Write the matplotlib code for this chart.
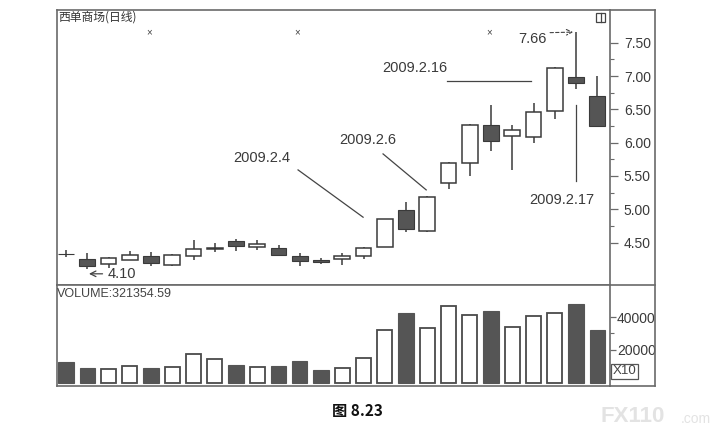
import matplotlib
matplotlib.use("Agg")
import matplotlib.pyplot as plt
from matplotlib.lines import Line2D
from matplotlib.patches import Rectangle
import numpy as np

plt.rcParams['font.family'] = ['Liberation Sans', 'Noto Sans CJK SC', 'DejaVu Sans']

# ---- data ----
opens  = [4.33, 4.25, 4.17, 4.24, 4.30, 4.16, 4.29, 4.40, 4.52, 4.43, 4.42, 4.29, 4.24,
          4.25, 4.30, 4.44, 4.99, 4.67, 5.39, 5.70, 6.27, 6.10, 6.08, 6.47, 6.99, 6.70]
highs  = [4.39, 4.34, 4.28, 4.38, 4.36, 4.32, 4.54, 4.49, 4.55, 4.54, 4.46, 4.34, 4.27,
          4.34, 4.43, 4.86, 5.11, 5.20, 5.71, 6.28, 6.56, 6.26, 6.59, 7.13, 7.66, 7.00]
lows   = [4.28, 4.10, 4.12, 4.24, 4.15, 4.14, 4.24, 4.35, 4.37, 4.39, 4.29, 4.15, 4.17,
          4.16, 4.25, 4.43, 4.66, 4.66, 5.31, 5.50, 5.88, 5.59, 6.00, 6.35, 6.80, 6.23]
closes = [4.32, 4.15, 4.27, 4.31, 4.19, 4.31, 4.41, 4.41, 4.45, 4.48, 4.31, 4.22, 4.20,
          4.30, 4.42, 4.85, 4.71, 5.19, 5.70, 6.27, 6.03, 6.19, 6.46, 7.12, 6.89, 6.25]
volumes = [12840, 9170, 8380, 9790, 8800, 9400, 17370, 14500, 10830, 9400, 10210, 13270, 7700,
           8680, 15170, 31900, 42300, 33150, 46970, 41100, 43920, 33940, 40670, 42200, 48100, 32135.459]
price_ticks = [4.50, 5.00, 5.50, 6.00, 6.50, 7.00, 7.50]
vol_ticks = [20000, 40000]

title = "西单商场(日线)"
vol_label = "VOLUME:321354.59"
caption = "图 8.23"

n = len(opens)
idx = np.arange(n)
o = np.array(opens); c = np.array(closes); h = np.array(highs); l = np.array(lows)
up = c >= o

W, H = 723, 441
fig = plt.figure(figsize=(W / 100, H / 100), dpi=100)
fig.patch.set_facecolor('white')

def fx(px):
    return px / W

def fy(py):
    return 1 - py / H

L, R, T, MID, B, RR = 57, 610, 10, 285, 386, 655
ax = fig.add_axes([fx(L), fy(MID), fx(R - L), (MID - T) / H])
axv = fig.add_axes([fx(L), fy(B), fx(R - L), (B - MID) / H])

frame_col = '#6a6a6a'
dark = '#555555'
edge = '#3a3a3a'
txt = '#3a3a3a'

# ---- candles ----
bw = 0.74
ax.vlines(idx, l, h, color=edge, lw=1.1, zorder=1)
bottoms = np.minimum(o, c)
heights = np.maximum(np.abs(c - o), 0.012)
ax.bar(idx[up], heights[up], bottom=bottoms[up], width=bw, facecolor='white',
       edgecolor=edge, lw=1.1, zorder=2)
ax.bar(idx[~up], heights[~up], bottom=bottoms[~up], width=bw, facecolor=dark,
       edgecolor=edge, lw=0.8, zorder=2)

ax.set_xlim(-0.424, 25.6)
ax.set_ylim(3.862, 7.991)
ax.set_xticks([])
ax.yaxis.tick_right()
ax.set_yticks(price_ticks)
ax.set_yticklabels([f"{v:.2f}" for v in price_ticks])
ax.set_yticks([v + 0.25 for v in price_ticks[:-1]], minor=True)
ax.tick_params(axis='y', which='major', direction='out', length=6, width=0.9,
               colors=frame_col, labelcolor=txt, labelsize=10, pad=4)
ax.tick_params(axis='y', which='minor', direction='out', length=3, width=0.8, colors=frame_col)
for s in ax.spines.values():
    s.set_color(frame_col)
    s.set_linewidth(1.2)

# title
ax.text(0.003, 0.997, title, transform=ax.transAxes, ha='left', va='top',
        fontsize=8.5, color='#333333', family=['Noto Sans CJK SC', 'DejaVu Sans'])

# x markers at top
for xi in [3.9, 10.9, 19.9]:
    ax.text(xi, 7.66, "×", ha='center', va='center', fontsize=7, color='#444444')

# annotations
ann_kw = dict(fontsize=10.5, color=txt)
line_kw = dict(color='#444444', lw=0.9)
ax.text(9.2, 5.77, "2009.2.4", ha='center', va='center', **ann_kw)
ax.plot([10.92, 13.98], [5.59, 4.88], **line_kw)
ax.text(14.22, 6.04, "2009.2.6", ha='center', va='center', **ann_kw)
ax.plot([14.92, 16.95], [5.83, 5.29], **line_kw)
ax.text(16.4, 7.12, "2009.2.16", ha='center', va='center', **ann_kw)
ax.plot([17.94, 21.89], [6.92, 6.92], **line_kw)
ax.text(23.35, 5.14, "2009.2.17", ha='center', va='center', **ann_kw)
ax.plot([24, 24], [6.56, 5.42], **line_kw)
ax.text(22.6, 7.555, "7.66", ha='right', va='center', **ann_kw)
ax.annotate("", xy=(24.0, 7.66), xytext=(22.65, 7.65),
            arrowprops=dict(arrowstyle='->', color='#444444', lw=0.8, linestyle=(0, (3, 2))))
ax.text(1.98, 4.03, "4.10", ha='left', va='center', **ann_kw)
ax.annotate("", xy=(0.95, 4.03), xytext=(1.85, 4.03),
            arrowprops=dict(arrowstyle='->', color='#444444', lw=0.9))

# ---- volume ----
vw = 0.72
v = np.array(volumes)
axv.bar(idx[up], v[up], width=vw, facecolor='white', edgecolor='#4a4a4a', lw=1.3, zorder=2)
axv.bar(idx[~up], v[~up], width=vw, facecolor=dark, edgecolor=dark, lw=0.8, zorder=2)
axv.set_xlim(-0.424, 25.6)
axv.set_ylim(-2140, 59630)
axv.set_xticks([])
axv.yaxis.tick_right()
axv.set_yticks(vol_ticks)
axv.set_yticklabels([str(t) for t in vol_ticks])
axv.set_yticks([30000], minor=True)
axv.tick_params(axis='y', which='major', direction='out', length=4, width=0.9,
                colors=frame_col, labelcolor=txt, labelsize=10, pad=1)
axv.tick_params(axis='y', which='minor', direction='out', length=3, width=0.8, colors=frame_col)
for s in axv.spines.values():
    s.set_color(frame_col)
    s.set_linewidth(1.2)
axv.text(0.0, 0.97, vol_label, transform=axv.transAxes, ha='left', va='top',
         fontsize=9, color='#444444')

# ---- outer frame on the right label column ----
for (x0, y0, x1, y1) in [(R, T, RR, T), (R, MID, RR, MID), (R, B, RR, B), (RR, T, RR, B)]:
    fig.add_artist(Line2D([fx(x0), fx(x1)], [fy(y0), fy(y1)], color=frame_col, lw=1.2,
                          transform=fig.transFigure))

# small icon top-right
fig.add_artist(Rectangle((fx(596), fy(22)), (605 - 596) / W, (22 - 13) / H, fill=False,
                         edgecolor='#444444', lw=0.9, transform=fig.transFigure))
fig.add_artist(Line2D([fx(601), fx(601)], [fy(13), fy(22)], color='#444444', lw=0.9,
                      transform=fig.transFigure))

# X10 box
fig.text(fx(624.5), fy(371.5), "X10", ha='center', va='center', fontsize=9.5, color='#444444',
         bbox=dict(boxstyle='square,pad=0.12', facecolor='white', edgecolor='#555555', lw=0.9))

# caption
fig.text(fx(357), fy(411), caption, ha='center', va='center', fontsize=11, fontweight='bold',
         color='#111111', family=['Noto Sans CJK SC', 'DejaVu Sans'])

# watermark
fig.text(fx(600), fy(417), "FX110", ha='left', va='center', fontsize=16, fontweight='bold',
         color='#e3e3e3')
fig.text(fx(681), fy(419), ".com", ha='left', va='center', fontsize=10, color='#e3e3e3')

fig.savefig("out.png", dpi=100, facecolor='white')
